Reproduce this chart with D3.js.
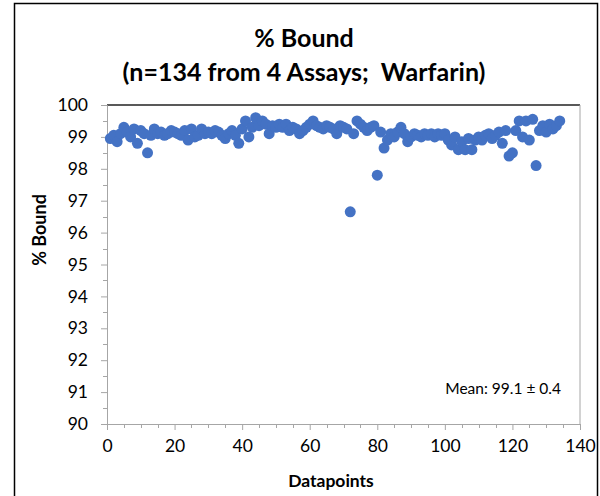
<!DOCTYPE html>
<html><head><meta charset="utf-8">
<script src="https://cdn.jsdelivr.net/npm/d3@7"></script>
<style>body{margin:0;background:#fff}svg{display:block}</style>
</head><body>
<svg id="c" width="600" height="496"></svg>
<script>
const titleLines = ["% Bound", "(n=134 from 4 Assays;  Warfarin)"];
const xLabel = "Datapoints";
const yLabel = "% Bound";
const meanText = "Mean: 99.1 \u00B1 0.4";
const xTicks = [0, 20, 40, 60, 80, 100, 120, 140];
const yTicks = [90, 91, 92, 93, 94, 95, 96, 97, 98, 99, 100];
const boundValues = [
 98.95,99.05,98.85,99.1,99.3,99.15,99.0,99.25,98.8,99.2,
 99.1,98.5,99.05,99.25,99.1,99.15,99.05,99.1,99.2,99.15,
 99.1,99.05,99.2,98.9,99.25,99.0,99.05,99.25,99.1,99.15,
 99.1,99.2,99.15,99.05,98.95,99.1,99.2,99.05,98.8,99.25,
 99.5,99.0,99.3,99.6,99.35,99.5,99.4,99.1,99.35,99.3,
 99.4,99.3,99.4,99.2,99.3,99.25,99.1,99.2,99.3,99.4,
 99.5,99.35,99.3,99.25,99.35,99.3,99.25,99.1,99.35,99.3,
 99.25,96.65,99.1,99.5,99.4,99.3,99.2,99.3,99.35,97.8,
 99.15,98.65,98.9,99.1,99.0,99.15,99.3,99.1,98.85,99.0,
 99.1,99.05,99.0,99.1,99.05,99.1,99.0,99.1,99.05,99.1,
 98.9,98.75,99.0,98.6,98.85,98.6,98.95,98.6,98.9,99.0,
 98.9,99.05,99.1,98.95,99.05,99.15,98.8,99.2,98.4,98.5,
 99.2,99.5,99.0,99.5,98.9,99.55,98.1,99.2,99.35,99.15,
 99.4,99.25,99.35,99.5
];
const data = boundValues.map((v, i) => ({x: i + 1, y: v}));

const svg = d3.select("#c");
const font = "Lato, 'Open Sans', sans-serif";
const L = 107, R = 580, T = 105, B = 424;

svg.append("rect").attr("x", 14.5).attr("y", 3.5).attr("width", 583).attr("height", 500)
  .attr("fill", "#fff").attr("stroke", "#000").attr("stroke-width", 1.5);

const x = d3.scaleLinear().domain([0, 140]).range([L, R]);
const y = d3.scaleLinear().domain([90, 100]).range([B, T]);

// title
svg.selectAll("text.title").data(titleLines).join("text")
  .attr("class", "title")
  .attr("x", 304).attr("y", (d, i) => 47 + i * 34)
  .attr("text-anchor", "middle").attr("font-family", font)
  .attr("font-weight", "bold").attr("font-size", 25).attr("fill", "#000")
  .style("white-space", "pre")
  .text(d => d);

// plot frame top/right
svg.append("line").attr("x1", L).attr("x2", R).attr("y1", T).attr("y2", T)
  .attr("stroke", "#222").attr("stroke-width", 1.5);
svg.append("line").attr("x1", R).attr("x2", R).attr("y1", T).attr("y2", B)
  .attr("stroke", "#a6a6a6").attr("stroke-width", 1);

// minor ticks
const yMinor = d3.range(90.5, 100, 1);
svg.append("g").selectAll("line").data(yMinor).join("line")
  .attr("x1", L - 4).attr("x2", L).attr("y1", d => Math.round(y(d)) + 0.5).attr("y2", d => Math.round(y(d)) + 0.5)
  .attr("stroke", "#a6a6a6");
const xMinor = d3.range(5, 140, 5).filter(d => d % 20 !== 0);
svg.append("g").selectAll("line").data(xMinor).join("line")
  .attr("x1", d => Math.round(x(d)) + 0.5).attr("x2", d => Math.round(x(d)) + 0.5).attr("y1", B).attr("y2", B + 4)
  .attr("stroke", "#a6a6a6");

// axes
const yAxis = svg.append("g").attr("transform", `translate(${L},0)`)
  .call(d3.axisLeft(y).tickValues(yTicks).tickSize(6).tickPadding(13).tickFormat(d3.format("d")));
const xAxis = svg.append("g").attr("transform", `translate(0,${B})`)
  .call(d3.axisBottom(x).tickValues(xTicks).tickSize(6).tickPadding(10).tickFormat(d3.format("d")));
[xAxis, yAxis].forEach(g => {
  g.select(".domain").attr("stroke", "#a6a6a6");
  g.selectAll(".tick line").attr("stroke", "#a6a6a6");
  g.selectAll(".tick text").attr("font-family", font).attr("font-size", 17.5).attr("fill", "#000");
});

// points
svg.append("g").selectAll("circle").data(data).join("circle")
  .attr("cx", d => x(d.x)).attr("cy", d => y(d.y)).attr("r", 5.5)
  .attr("fill", "#4472C4");

// labels
svg.append("text").attr("x", 331).attr("y", 487).attr("text-anchor", "middle")
  .attr("font-family", font).attr("font-weight", "bold").attr("font-size", 17.5).text(xLabel);
svg.append("text").attr("transform", "translate(46,230) rotate(-90)").attr("text-anchor", "middle")
  .attr("font-family", font).attr("font-weight", "bold").attr("font-size", 18).text(yLabel);
svg.append("text").attr("x", 561).attr("y", 394).attr("text-anchor", "end")
  .attr("font-family", font).attr("font-size", 15.5).text(meanText);
</script>
</body></html>
